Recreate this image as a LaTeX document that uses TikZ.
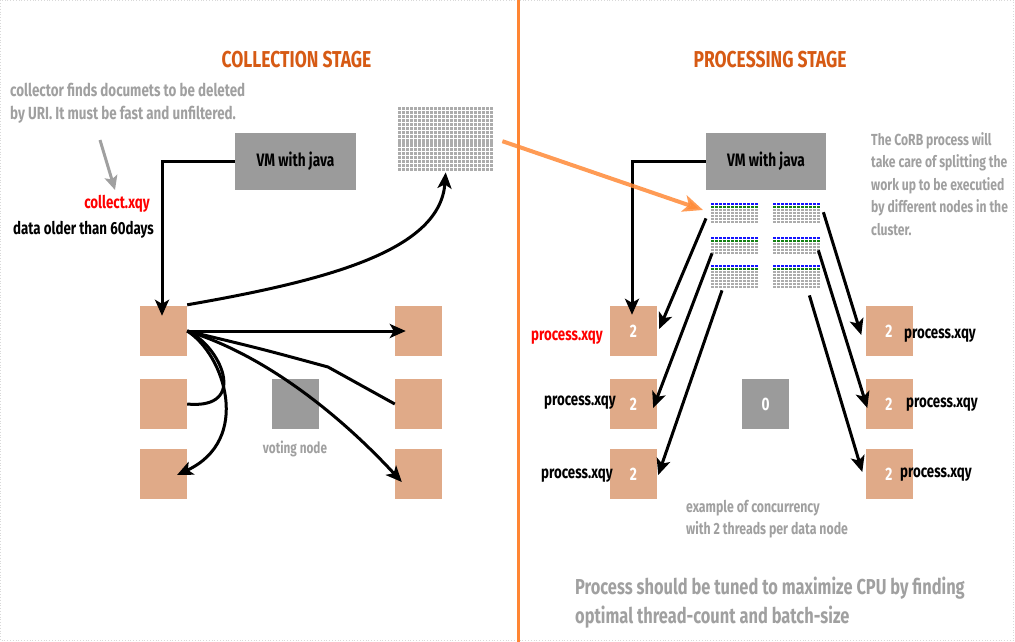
\documentclass[tikz,border=0pt]{standalone}
\usepackage{fontspec}
\setmainfont{Fira Sans}[FakeStretch=0.76]
\usetikzlibrary{arrows.meta,calc}
\definecolor{tanc}{RGB}{224,170,136}
\definecolor{boxgray}{RGB}{155,155,155}
\definecolor{txtgray}{RGB}{160,160,160}
\definecolor{titleorange}{RGB}{214,90,20}
\definecolor{divorange}{RGB}{255,133,51}
\definecolor{arrorange}{RGB}{255,138,55}
\definecolor{cellgray}{RGB}{172,172,172}
\definecolor{cellblue}{RGB}{20,20,255}
\definecolor{cellgreen}{RGB}{20,130,20}
\newcommand\smallgrid[3]{%
  \foreach \i in {0,...,11} {%
    \fill[cellblue] (#1+4*\i,#2) rectangle ++(3,2.4);
    \fill[cellgreen] (#1+4*\i,#2+3) rectangle ++(3,2.4);
    \foreach \j in {2,...,#3} {\fill[cellgray] (#1+4*\i,#2+3*\j) rectangle ++(3,2.2);}
  }}
\begin{document}
\begin{tikzpicture}[x=1pt,y=-1pt,
  every node/.style={font=\bfseries},
  tanbox/.style={fill=tanc, minimum width=47pt, minimum height=50pt, inner sep=0pt, text=white, font=\bfseries\fontsize{18}{20}\selectfont},
  graybox/.style={fill=boxgray, inner sep=0pt, text=white, font=\bfseries\fontsize{18}{20}\selectfont},
  vmbox/.style={fill=boxgray, minimum width=121pt, minimum height=57pt, inner sep=0pt, font=\bfseries\fontsize{18}{20}\selectfont},
  gridbox/.style={inner sep=0pt, anchor=north west},
  title/.style={text=titleorange, font=\bfseries\fontsize{23}{25}\selectfont, anchor=base, inner sep=0pt},
  note/.style={text=txtgray, font=\bfseries\fontsize{17.6}{19}\selectfont, anchor=base west, inner sep=0pt},
  rnote/.style={text=txtgray, font=\bfseries\fontsize{16}{18}\selectfont, anchor=base west, inner sep=0pt},
  lab/.style={font=\bfseries\fontsize{17.5}{19}\selectfont, inner sep=0pt},
  big/.style={text=txtgray, font=\bfseries\fontsize{21.6}{23}\selectfont, anchor=base west, inner sep=0pt},
  conn/.style={line width=3pt, -{Stealth[length=16pt,width=14pt,inset=4pt]}},
  plain/.style={line width=3pt},
  oarr/.style={line width=4pt, draw=arrorange, opacity=0.85, -{Stealth[length=20pt,width=17pt,inset=5pt]}},
  ]
\useasboundingbox (0,0) rectangle (1015,642);
% frame and divider
\draw[gray!30, dotted, line width=0.8pt] (0.5,0.5) rectangle (1013.5,640.5);
\draw[divorange, line width=3pt] (518,0) -- (518,642);

% titles
\node[title] (tL) at (296.5,67) {COLLECTION STAGE};
\node[title] (tR) at (770,67) {PROCESSING STAGE};

% left notes
\node[note] (n1) at (10,96) {collector finds documets to be deleted};
\node[note] (n2) at (10,119) {by URI. It must be fast and unfiltered.};
\coordinate (ga) at (100,140);
\coordinate (gb) at (115,190);
\draw[txtgray, line width=3pt, -{Stealth[length=14pt,width=13pt,inset=3pt]}] (ga) -- (gb);
\node[lab, text=red, anchor=base east] (cx) at (150,208) {collect.xqy};
\node[lab, anchor=base east] (dx) at (154,234) {data older than 60days};

% left VM and grid
\node[vmbox] (vmL) at (295.5,161.5) {VM with java};
\node[gridbox, minimum width=95pt, minimum height=65pt] (gridL) at (398,107) {};
\foreach \i in {0,...,23} \foreach \j in {0,...,15} \fill[cellgray] (398+4*\i,107+4.05*\j) rectangle ++(2.8,3.1);

% left boxes
\node[tanbox] (A) at (163.5,331) {};
\node[tanbox] (B) at (163.5,404) {};
\node[tanbox] (C) at (163.5,474) {};
\node[tanbox] (RA) at (418.5,331) {};
\node[tanbox] (RB) at (418.5,404) {};
\node[tanbox] (RC) at (418.5,474) {};
\node[graybox, minimum width=47pt, minimum height=50pt] (vote) at (295.5,404) {};
\node[note, font=\bfseries\fontsize{15.5}{17}\selectfont, anchor=base] (vn) at (295,453) {voting node};

% left connectors
\draw[conn] (vmL.west) -| ([xshift=-1.5pt,yshift=-10pt]A.north);
\draw[conn] ([yshift=1pt]A.north east) .. controls (330,280) and (440,250) .. (gridL.south);
\draw[conn] (A.east) -- ([xshift=11pt]RA.west);
\coordinate (kink) at (328,367);
\draw[plain] (A.east) .. controls (262,349) .. (kink) -- (RB.west);
\draw[conn] (A.east) .. controls (265,355) and (340,415) .. ([shift={(7pt,-8pt)}]RC.west);
\draw[plain] (A.east) .. controls (220,345) and (250,410) .. (B.east);
\draw[conn] (A.east) .. controls (225,355) and (252,440) .. ([shift={(13.5pt,-1pt)}]C.center);

% right VM and grids
\node[vmbox, minimum width=120pt] (vmR) at (766,161.5) {VM with java};
\node[gridbox, minimum width=48pt, minimum height=21pt] (g1) at (711,203) {};
\node[gridbox, minimum width=48pt, minimum height=21pt] (g2) at (773,203) {};
\node[gridbox, minimum width=48pt, minimum height=18pt] (g3) at (711,237) {};
\node[gridbox, minimum width=48pt, minimum height=18pt] (g4) at (773,237) {};
\node[gridbox, minimum width=48pt, minimum height=24pt] (g5) at (711,265) {};
\node[gridbox, minimum width=48pt, minimum height=24pt] (g6) at (773,265) {};
\smallgrid{711}{203}{6}
\smallgrid{773}{203}{6}
\smallgrid{711}{237}{5}
\smallgrid{773}{237}{5}
\smallgrid{711}{265}{7}
\smallgrid{773}{265}{7}

% right boxes
\node[tanbox] (L1) at (633.5,331) {2};
\node[tanbox] (L2) at (633.5,404) {2};
\node[tanbox] (L3) at (633.5,474) {2};
\node[tanbox] (R1) at (889,331) {2};
\node[tanbox] (R2) at (889,404) {2};
\node[tanbox] (R3) at (889,474) {2};
\node[graybox, minimum width=47pt, minimum height=50pt] (zero) at (765.5,404) {0};

% right labels
\node[lab, text=red, anchor=base east] (p1) at (603,340) {process.xqy};
\node[lab, anchor=base west] (p2) at (544,405) {process.xqy};
\node[lab, anchor=base west] (p3) at (541,478) {process.xqy};
\node[lab, anchor=base west] (p4) at (904,338) {process.xqy};
\node[lab, anchor=base west] (p5) at (906,407) {process.xqy};
\node[lab, anchor=base west] (p6) at (900,477) {process.xqy};

% right notes
\node[rnote] (r1) at (871,145) {The CoRB process will};
\node[rnote] (r2) at (871,167.6) {take care of splitting the};
\node[rnote] (r3) at (871,190.2) {work up to be executied};
\node[rnote] (r4) at (871,212.8) {by different nodes in the};
\node[rnote] (r5) at (871,235.4) {cluster.};
\node[rnote, font=\bfseries\fontsize{16.2}{18}\selectfont] (e1) at (686,512) {example of concurrency};
\node[rnote, font=\bfseries\fontsize{16.2}{18}\selectfont] (e2) at (686,534) {with 2 threads per data node};
\node[big] (b1) at (575,594) {Process should be tuned to maximize CPU by finding};
\node[big] (b2) at (575,623) {optimal thread-count and batch-size};

% right connectors
\draw[conn] (vmR.west) -| ([xshift=-1.5pt,yshift=-9pt]L1.north);
\draw[conn] ([shift={(-5pt,6pt)}]g1.south west) -- ([shift={(2pt,2pt)}]L1.east);
\draw[conn] ([shift={(1pt,2pt)}]g3.south west) -- ([shift={(-4pt,-4pt)}]L2.east);
\draw[conn] ([shift={(11pt,-1pt)}]g5.south west) -- ([shift={(1pt,-1pt)}]L3.east);
\draw[conn] ([shift={(2pt,1.5pt)}]g2.east) -- ([shift={(-4pt,-4pt)}]R1.west);
\draw[conn] ([shift={(-3pt,5pt)}]g4.south east) -- ([shift={(2pt,-4pt)}]R2.west);
\draw[conn] ([shift={(-12pt,-6pt)}]g6.south east) -- ([shift={(-3pt,2pt)}]R3.west);

% orange arrow
\draw[oarr] ([shift={(9pt,-1.5pt)}]gridL.east) -- ([shift={(-8pt,-7pt)}]g1.north west);
\end{tikzpicture}
\end{document}
